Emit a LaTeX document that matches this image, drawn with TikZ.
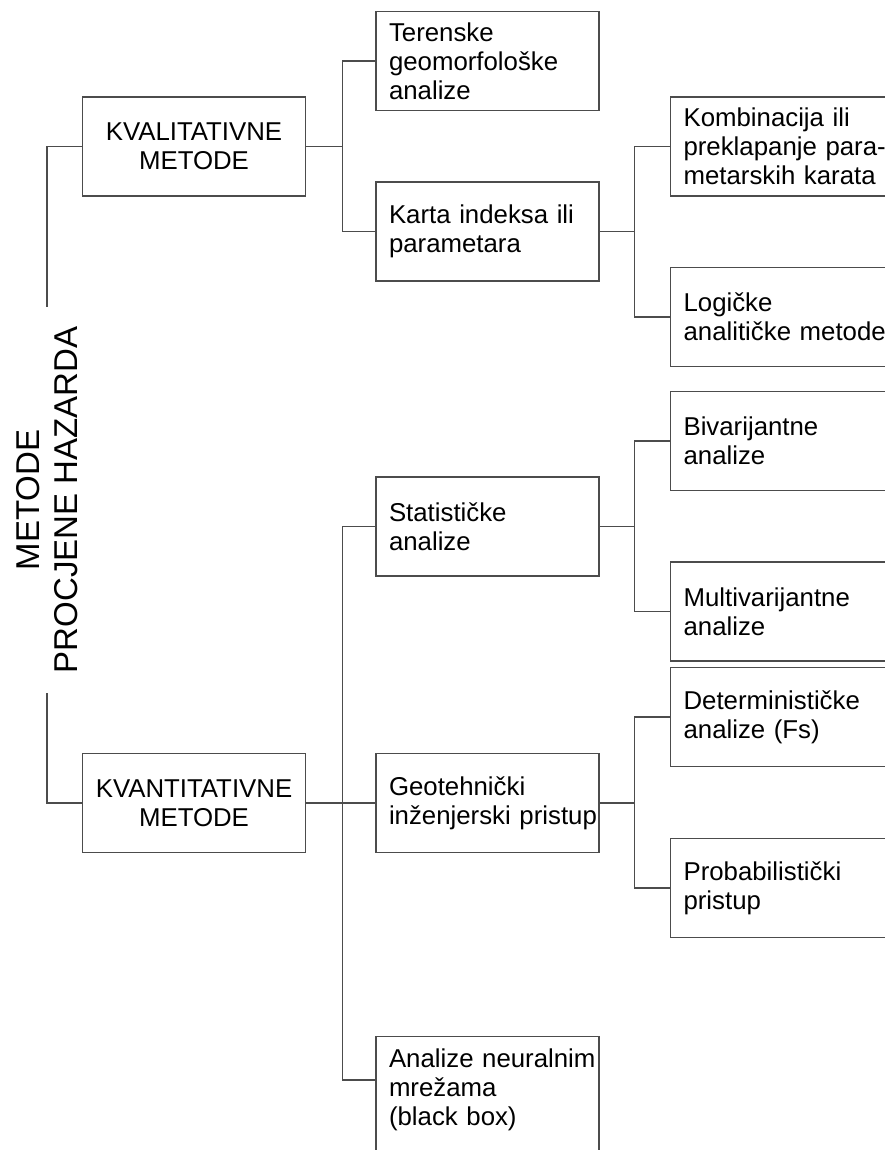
\documentclass[tikz,border=0pt]{standalone}
\usepackage{fontspec}
\setmainfont{Liberation Sans}
\usepackage{tikz}
\usetikzlibrary{calc}
\newcommand\boxfont{\fontsize{25.8}{29}\selectfont\hyphenpenalty=10000\exhyphenpenalty=10000}
\newcommand\rootfont{\fontsize{33}{38}\selectfont}

\begin{document}
\begin{tikzpicture}[x=1pt,y=-1pt,
  box/.style={draw=black!70,line width=1.1pt,inner xsep=13pt,inner ysep=0pt,
    text width=197pt,minimum height=99pt,align=left,font=\boxfont},
  mainbox/.style={box,align=center},
  link/.style={draw=black!70,line width=1.1pt}]
\useasboundingbox (0,0) rectangle (885,1150);

\node[rotate=90,align=center,inner xsep=20pt,inner ysep=0pt,font=\rootfont] (root) at (47,500) {METODE\\PROCJENE HAZARDA};

\node[mainbox] (kval) at (194,146.5) {KVALITATIVNE\\METODE};
\node[mainbox] (kvant) at (194,803) {KVANTITATIVNE\\METODE};

\node[box] (ter) at (487.5,61) {Terenske\\geomorfološke\\analize};
\node[box] (karta) at (487.5,231.5) {Karta indeksa ili\\parametara};
\node[box] (stat) at (487.5,526.5) {Statističke\\analize};
\node[box] (geo) at (487.5,803) {Geotehnički\\inženjerski~pristup};
\node[box,anchor=north,minimum height=0pt,inner ysep=12pt] (neural) at (487.5,1036) {Analize~neuralnim\\mrežama\\(black~box)\rule[-90pt]{0pt}{90pt}};

\node[box,anchor=west] (komb) at (670,146.5) {Kombinacija ili\\preklapanje~para-\\metarskih~karata};
\node[box,anchor=west] (log) at (670,317) {Logičke\\analitičke~metode};
\node[box,anchor=west] (biv) at (670,441) {Bivarijantne\\analize};
\node[box,anchor=west] (multi) at (670,611.5) {Multivarijantne\\analize};
\node[box,anchor=west] (det) at (670,717) {Determinističke\\analize (Fs)};
\node[box,anchor=west] (prob) at (670,888) {Probabilistički\\pristup};

\coordinate (j1) at ([xshift=36.5pt]kval.east);
\coordinate (j2) at ([xshift=36.5pt]kvant.east);
\coordinate (j3) at ([xshift=35pt]karta.east);
\coordinate (j4) at ([xshift=35pt]stat.east);
\coordinate (j5) at ([xshift=35pt]geo.east);
\coordinate (neuralin) at ([yshift=-44pt]neural.north west);

\draw[link] (kval.west) -| (root.east);
\draw[link] (kvant.west) -| (root.west);

\draw[link] (kval.east) -- (j1);
\draw[link] (ter.west) -| (j1) |- (karta.west);
\draw[link] (kvant.east) -- (geo.west);
\draw[link] (stat.west) -| (j2) |- (neuralin);

\draw[link] (karta.east) -- (j3);
\draw[link] (komb.west) -| (j3) |- (log.west);
\draw[link] (stat.east) -- (j4);
\draw[link] (biv.west) -| (j4) |- (multi.west);
\draw[link] (geo.east) -- (j5);
\draw[link] (det.west) -| (j5) |- (prob.west);
\end{tikzpicture}
\end{document}
